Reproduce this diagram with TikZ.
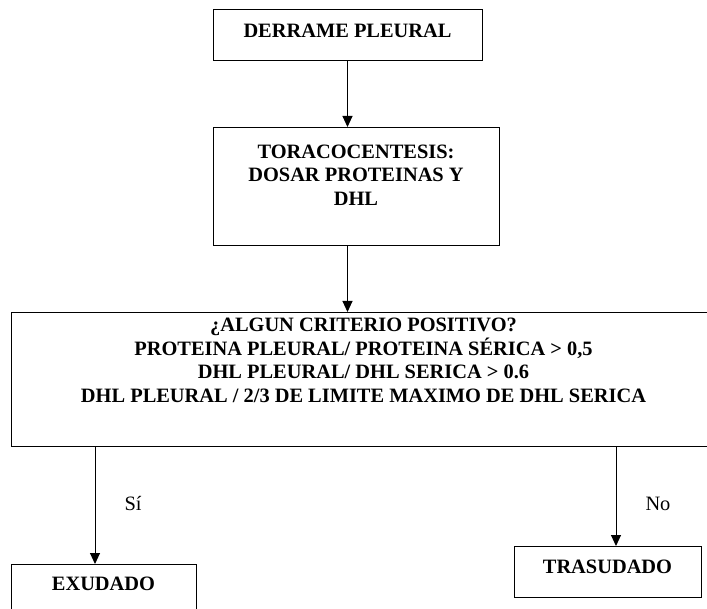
\documentclass[tikz,border=0pt]{standalone}
\usepackage{fontspec}
\setmainfont{Liberation Serif}
\usetikzlibrary{arrows.meta,positioning}

\begin{document}
\begin{tikzpicture}[x=1pt,y=-1pt,
  box/.style={draw=black, line width=1pt, inner sep=0pt, anchor=north, align=center, font=\bfseries\fontsize{20.4}{23.5}\selectfont},
  arrow/.style={-{Triangle[length=11pt,width=10pt]}, draw=black, line width=1pt},
  answer/.style={font=\fontsize{20.4}{23.5}\selectfont, inner sep=2pt}
]
\useasboundingbox (0,0) rectangle (707,609);
\node[box, minimum width=269pt, text height=28pt, text depth=23pt] (derrame) at (347.5,9) {DERRAME PLEURAL};
\node[box, minimum width=286pt, text height=78pt, text depth=40pt] (toraco) at (356,127) {TORACOCENTESIS:\\DOSAR PROTEINAS Y\\DHL};
\node[box, minimum width=705pt, text height=90pt, text depth=44pt] (criterio) at (363.5,312) {¿ALGUN CRITERIO POSITIVO?\\PROTEINA PLEURAL/ PROTEINA SÉRICA > 0,5\\DHL PLEURAL/ DHL SERICA > 0.6\\DHL PLEURAL / 2/3 DE LIMITE MAXIMO DE DHL SERICA};
\node[box, minimum width=185pt, text height=26pt, text depth=26pt] (exudado) at (103.5,564) {EXUDADO};
\node[box, minimum width=187pt, text height=27pt, text depth=24pt] (trasudado) at (607.5,546) {TRASUDADO};
\coordinate (si) at ([xshift=-8.5pt]exudado.north);
\coordinate (no) at ([xshift=8.5pt]trasudado.north);
\draw[arrow] (derrame.south) -- (derrame.south |- toraco.north);
\draw[arrow] (derrame.south |- toraco.south) -- (derrame.south |- criterio.north);
\draw[arrow] (si |- criterio.south) -- node[answer, pos=0.48, right=27pt] {Sí} (si);
\draw[arrow] (no |- criterio.south) -- node[answer, pos=0.57, right=27pt] {No} (no);
\end{tikzpicture}
\end{document}
